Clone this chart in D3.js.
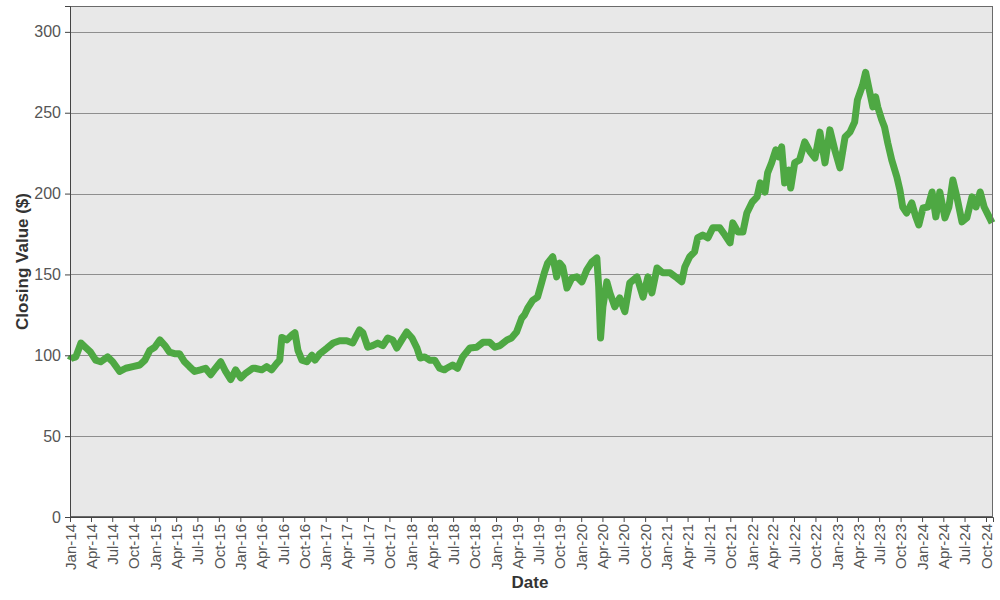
<!DOCTYPE html>
<html>
<head>
<meta charset="utf-8">
<script src="https://cdn.jsdelivr.net/npm/d3@7"></script>
<style>
  body { margin: 0; background: #fff; }
  svg { display: block; font-family: Arial, "Liberation Sans", sans-serif; }
</style>
</head>
<body>
<svg id="chart" width="1000" height="600"></svg>
<script>
// closing values
const dates = [
  '2014-01-02', '2014-01-05', '2014-01-26', '2014-02-17', '2014-03-08', '2014-03-30',
  '2014-04-21', '2014-05-12', '2014-06-11', '2014-07-03', '2014-08-02', '2014-08-28',
  '2014-09-27', '2014-10-27', '2014-11-18', '2014-12-09', '2014-12-30', '2015-01-21',
  '2015-02-12', '2015-03-03', '2015-03-25', '2015-04-15', '2015-05-07', '2015-05-28',
  '2015-06-19', '2015-07-14', '2015-08-05', '2015-08-27', '2015-09-17', '2015-10-09',
  '2015-10-30', '2015-11-21', '2015-12-12', '2016-01-03', '2016-01-25', '2016-02-24',
  '2016-03-03', '2016-04-02', '2016-04-23', '2016-05-14', '2016-06-05', '2016-06-18',
  '2016-06-27', '2016-07-18', '2016-08-09', '2016-08-22', '2016-09-04', '2016-09-21',
  '2016-10-12', '2016-11-03', '2016-11-16', '2016-12-07', '2017-01-07', '2017-02-02',
  '2017-03-02', '2017-04-01', '2017-04-27', '2017-05-14', '2017-05-26', '2017-06-09',
  '2017-06-30', '2017-07-21', '2017-08-12', '2017-09-03', '2017-09-24', '2017-10-15',
  '2017-11-02', '2017-11-23', '2017-12-14', '2018-01-06', '2018-01-27', '2018-02-10',
  '2018-03-01', '2018-03-22', '2018-04-13', '2018-05-04', '2018-05-25', '2018-06-04',
  '2018-06-29', '2018-07-20', '2018-08-11', '2018-09-11', '2018-10-10', '2018-11-06',
  '2018-12-05', '2018-12-27', '2019-01-18', '2019-02-17', '2019-03-08', '2019-03-30',
  '2019-04-21', '2019-05-03', '2019-05-16', '2019-06-07', '2019-06-28', '2019-07-15',
  '2019-07-28', '2019-08-10', '2019-09-01', '2019-09-18', '2019-10-01', '2019-10-14',
  '2019-11-01', '2019-11-22', '2019-12-13', '2020-01-04', '2020-01-25', '2020-02-16',
  '2020-03-08', '2020-03-16', '2020-03-24', '2020-04-03', '2020-04-20', '2020-05-03',
  '2020-05-24', '2020-06-14', '2020-07-06', '2020-07-27', '2020-08-27', '2020-09-22',
  '2020-10-13', '2020-10-30', '2020-11-21', '2020-12-16', '2021-01-16', '2021-02-15',
  '2021-03-07', '2021-03-20', '2021-04-10', '2021-05-01', '2021-05-14', '2021-06-05',
  '2021-06-27', '2021-07-18', '2021-08-17', '2021-09-08', '2021-09-30', '2021-10-12',
  '2021-11-03', '2021-11-24', '2021-12-11', '2022-01-03', '2022-01-24', '2022-02-06',
  '2022-02-27', '2022-03-10', '2022-03-27', '2022-04-14', '2022-04-27', '2022-05-09',
  '2022-05-22', '2022-06-09', '2022-06-17', '2022-07-04', '2022-07-25', '2022-08-16',
  '2022-09-08', '2022-09-29', '2022-10-20', '2022-11-11', '2022-12-02', '2022-12-23',
  '2023-01-14', '2023-02-05', '2023-02-26', '2023-03-18', '2023-03-30', '2023-04-21',
  '2023-05-04', '2023-05-17', '2023-06-04', '2023-06-16', '2023-06-25', '2023-07-12',
  '2023-07-24', '2023-08-07', '2023-08-24', '2023-09-15', '2023-09-28', '2023-10-10',
  '2023-10-27', '2023-11-18', '2023-12-05', '2023-12-18', '2024-01-05', '2024-01-26',
  '2024-02-13', '2024-02-29', '2024-03-17', '2024-04-08', '2024-04-25', '2024-05-12',
  '2024-05-29', '2024-06-20', '2024-07-11', '2024-08-02', '2024-08-19', '2024-09-06',
  '2024-09-23', '2024-10-10', '2024-10-27'
];
const closing = [
  97, 98, 99, 107.6, 105, 102,
  97, 96, 99, 96, 90, 92,
  93, 94, 97, 103, 105, 109.5,
  106, 102, 101, 101, 96, 93,
  90, 91, 92, 88, 92, 96,
  90, 85, 91, 86, 89, 92,
  92, 91, 93, 91, 95, 97,
  111, 109.5, 112.5, 114, 103, 97,
  96, 100, 97, 101, 104.5, 107.6,
  109, 109, 107.6, 112.5, 115.7, 114,
  105, 106, 107.6, 106, 110.7, 109.5,
  104.5, 109.5, 114.4, 110.7, 104.5, 98.3,
  99, 97, 97, 92, 91, 92,
  94, 92, 99, 104.5, 105, 108,
  108, 105, 106, 109.5, 110.7, 114.4,
  123, 125, 129, 134, 136, 144.7,
  151.5, 157, 161, 148.5, 157, 154.6,
  141.6, 147.8, 148.5, 145.4, 152.8, 157.7,
  160.2, 142.3, 110.7, 130, 145.4, 138.6,
  130, 135.5, 127, 144.7, 148.5, 136,
  148.5, 138.6, 154, 151, 151, 147.8,
  145.4, 154.6, 161, 164, 172.6, 174.4,
  172.6, 178.8, 178.8, 174.4, 169.5, 181.9,
  176.3, 176.3, 188, 194.8, 198, 206.6,
  201, 212.8, 219, 227, 222.7, 228.9,
  206.6, 214.6, 203.5, 219, 220.8, 232,
  225.8, 222, 238, 219, 239.4, 227,
  215.9, 235, 238, 244.3, 258, 267,
  275, 266, 253.6, 259.8, 253.6, 245.6,
  241.2, 231.3, 220.8, 210.3, 202.2, 191.7,
  188, 194.2, 185.6, 180.6, 191.1, 191.7,
  201, 185.6, 201, 185, 191.7, 208.4,
  198, 182.5, 185, 198, 191.7, 201,
  191.7, 186.8, 181.9
];
const yTicks = [0, 50, 100, 150, 200, 250, 300];

const parseDate = d3.utcParse('%Y-%m-%d');
const series = dates.map((d, i) => ({ date: parseDate(d), value: closing[i] }));

const svg = d3.select('#chart');
const margin = { top: 6, right: 7, bottom: 83, left: 70 };
const width = +svg.attr('width') - margin.left - margin.right;
const height = +svg.attr('height') - margin.top - margin.bottom;

const g = svg.append('g').attr('transform', `translate(${margin.left},${margin.top})`);

const x = d3.scaleUtc()
  .domain([new Date(Date.UTC(2014, 0, 1)), new Date(Date.UTC(2024, 9, 31))])
  .range([0, width]);
const y = d3.scaleLinear().domain([0, 316]).range([height, 0]);

// plot background
g.append('rect')
  .attr('width', width)
  .attr('height', height)
  .attr('fill', '#e8e8e8');

// grid lines
g.append('g')
  .selectAll('line')
  .data(yTicks.filter(d => d > 0))
  .join('line')
  .attr('x1', 0)
  .attr('x2', width)
  .attr('y1', d => Math.round(y(d)) + 0.5)
  .attr('y2', d => Math.round(y(d)) + 0.5)
  .attr('stroke', '#8e8e8e')
  .attr('stroke-width', 1);

// line
const line = d3.line()
  .x(d => x(d.date))
  .y(d => y(d.value));

g.append('path')
  .datum(series)
  .attr('fill', 'none')
  .attr('stroke', '#4ea843')
  .attr('stroke-width', 7)
  .attr('stroke-linejoin', 'round')
  .attr('d', line);

// frame
g.append('rect')
  .attr('x', 0.5)
  .attr('y', 0.5)
  .attr('width', width - 1)
  .attr('height', height - 1)
  .attr('fill', 'none')
  .attr('stroke', '#6a6a6a');

// y axis
const yAxis = g.append('g')
  .call(d3.axisLeft(y).tickValues(yTicks).tickSize(5).tickPadding(4));
yAxis.select('.domain').attr('stroke', '#444');
yAxis.selectAll('.tick line').attr('stroke', '#444');
yAxis.selectAll('text')
  .attr('font-size', 16)
  .attr('font-family', 'Arial, "Liberation Sans", sans-serif')
  .attr('fill', '#555');

// x axis
const xAxis = g.append('g')
  .attr('transform', `translate(0,${height})`)
  .call(d3.axisBottom(x)
    .ticks(d3.utcMonth.every(3))
    .tickFormat(d3.utcFormat('%b-%y'))
    .tickSize(5));
xAxis.select('.domain').attr('stroke', '#444');
xAxis.selectAll('.tick line').attr('stroke', '#444');
xAxis.selectAll('text')
  .attr('font-size', 15)
  .attr('font-family', 'Arial, "Liberation Sans", sans-serif')
  .attr('fill', '#555')
  .attr('text-anchor', 'end')
  .attr('dy', '0.35em')
  .attr('transform', 'rotate(-90)')
  .attr('x', -7)
  .attr('y', 0);

// axis titles
svg.append('text')
  .attr('x', 530)
  .attr('y', 588)
  .attr('text-anchor', 'middle')
  .attr('font-size', 17)
  .attr('font-weight', 'bold')
  .attr('fill', '#333')
  .text('Date');

svg.append('text')
  .attr('transform', `translate(28,${margin.top + height / 2}) rotate(-90)`)
  .attr('text-anchor', 'middle')
  .attr('font-size', 17)
  .attr('font-weight', 'bold')
  .attr('fill', '#333')
  .text('Closing Value ($)');
</script>
</body>
</html>
